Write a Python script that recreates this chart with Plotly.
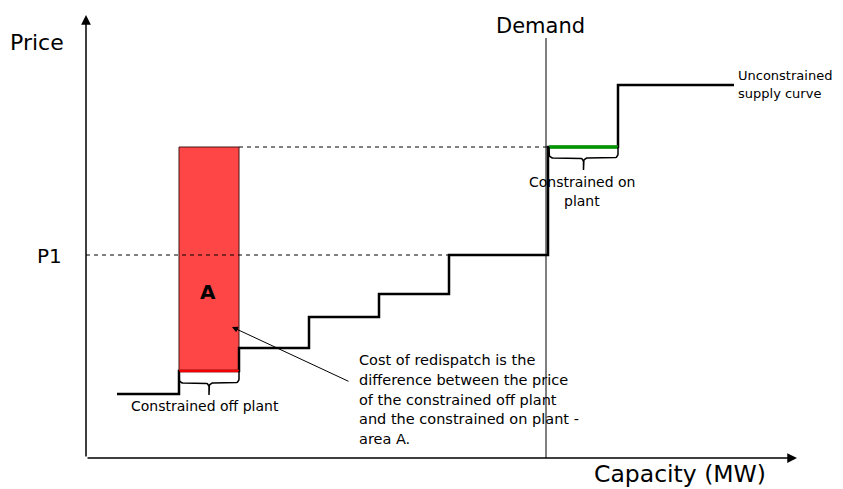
import numpy as np
import plotly.graph_objects as go

# ---- data (capacity units, price units) ----
supply_cap = [31, 93, 153, 223, 293, 363, 462, 532, 648]
supply_price = [64, 87, 110, 141, 164, 203, 311, 373, 373]
demand_cap = 460
p1_price = 203
off_plant_cap = [93, 153]
off_plant_price = 87
on_plant_cap = [463, 532]
on_plant_price = 311
axis_max_cap = 711
axis_max_price = 443

FONT = "DejaVu Sans"
fig = go.Figure()

# red area A
fig.add_trace(go.Scatter(
    x=[off_plant_cap[0], off_plant_cap[1], off_plant_cap[1], off_plant_cap[0], off_plant_cap[0]],
    y=[off_plant_price, off_plant_price, on_plant_price, on_plant_price, off_plant_price],
    mode="lines", fill="toself", fillcolor="rgb(255,70,70)",
    line=dict(color="rgb(70,20,20)", width=1), hoverinfo="skip"))

# dashed guide lines
fig.add_trace(go.Scatter(x=[off_plant_cap[1], supply_cap[6]], y=[on_plant_price, on_plant_price],
                         mode="lines", line=dict(color="black", width=1, dash="4px,4px")))
fig.add_trace(go.Scatter(x=[0, supply_cap[5]], y=[p1_price, p1_price],
                         mode="lines", line=dict(color="black", width=1, dash="4px,4px")))

# demand line
fig.add_trace(go.Scatter(x=[demand_cap, demand_cap], y=[0, 420], mode="lines",
                         line=dict(color="black", width=1)))

# supply curve
fig.add_trace(go.Scatter(x=supply_cap, y=supply_price, mode="lines", line_shape="hv",
                         line=dict(color="black", width=2.5)))

# constrained off (red) and on (green) plant
fig.add_trace(go.Scatter(x=off_plant_cap, y=[off_plant_price] * 2, mode="lines",
                         line=dict(color="rgb(240,0,0)", width=2.5)))
fig.add_trace(go.Scatter(x=on_plant_cap, y=[on_plant_price] * 2, mode="lines",
                         line=dict(color="rgb(0,150,0)", width=3.5)))


def brace(x0, x1, ytop, ymid, ytip, r=4):
    xc = (x0 + x1) / 2
    t = np.linspace(0, np.pi / 2, 8)
    xs, ys = [x0], [ytop]
    xs += list(x0 + r - r * np.cos(t)); ys += list(ymid + r - r * np.sin(t))
    xs += list(xc - r + r * np.sin(t)); ys += list(ymid - r + r * np.cos(t))
    xs += [xc, xc]; ys += [ytip, ymid - r]
    xs += list(xc + r - r * np.cos(t)); ys += list(ymid - r + r * np.sin(t))
    xs += list(x1 - r + r * np.sin(t)); ys += list(ymid + r - r * np.cos(t))
    xs += [x1]; ys += [ytop]
    return xs, ys


bx, by = brace(off_plant_cap[0], off_plant_cap[1], off_plant_price, 75, 63)
fig.add_trace(go.Scatter(x=bx, y=by, mode="lines", line=dict(color="black", width=1.5)))
bx, by = brace(on_plant_cap[0], on_plant_cap[1], on_plant_price, 300, 288)
fig.add_trace(go.Scatter(x=bx, y=by, mode="lines", line=dict(color="black", width=1.5)))

ann = []
ann.append(dict(x=0, y=axis_max_price, ax=0, ay=0, xref="x", yref="y", axref="x", ayref="y",
                showarrow=True, arrowhead=2, arrowsize=1.3, arrowwidth=1.5, arrowcolor="black", text=""))
ann.append(dict(x=axis_max_cap, y=0, ax=0, ay=0, xref="x", yref="y", axref="x", ayref="y",
                showarrow=True, arrowhead=2, arrowsize=1.3, arrowwidth=1.5, arrowcolor="black", text=""))
ann.append(dict(x=146, y=131, ax=264, ay=76, xref="x", yref="y", axref="x", ayref="y",
                showarrow=True, arrowhead=2, arrowsize=1.2, arrowwidth=1, arrowcolor="black", text=""))


def txt(x, y, s, size=14, xanchor="center", bold=False):
    if bold:
        s = "<b>" + s + "</b>"
    return dict(x=x, y=y, xref="x", yref="y", text=s, showarrow=False, xanchor=xanchor,
                yanchor="middle", font=dict(family=FONT, size=size, color="black"))


ann.append(txt(-49, 416, "Price", 22))
ann.append(txt(-22, 202, "P1", 20, xanchor="right"))
ann.append(txt(454, 432, "Demand", 21))
ann.append(txt(594, -16, "Capacity (MW)", 23.5))
ann.append(txt(122, 166, "A", 20, bold=True))
ann.append(txt(119, 52, "Constrained off plant"))
ann.append(txt(496, 276, "Constrained on"))
ann.append(txt(496, 257, "plant"))
ann.append(txt(650, 383, "Unconstrained", size=13, xanchor="left"))
ann.append(txt(650, 365, "supply curve", size=13, xanchor="left"))
cost_lines = ["Cost of redispatch is the", "difference between the price",
              "of the constrained off plant", "and the constrained on plant -", "area A."]
for i, line in enumerate(cost_lines):
    ann.append(txt(271, 98 - 19.8 * i, line, size=14.5, xanchor="left"))

# page body has an 8px margin: figure is 8px smaller and ranges are shifted accordingly
fig.update_layout(
    width=835, height=481, margin=dict(l=0, r=0, t=0, b=0),
    paper_bgcolor="white", plot_bgcolor="white", showlegend=False,
    xaxis=dict(range=[-78, 757], visible=False, fixedrange=True),
    yaxis=dict(range=[-31, 450], visible=False, fixedrange=True),
    annotations=ann,
)
fig.write_html("out.html")
